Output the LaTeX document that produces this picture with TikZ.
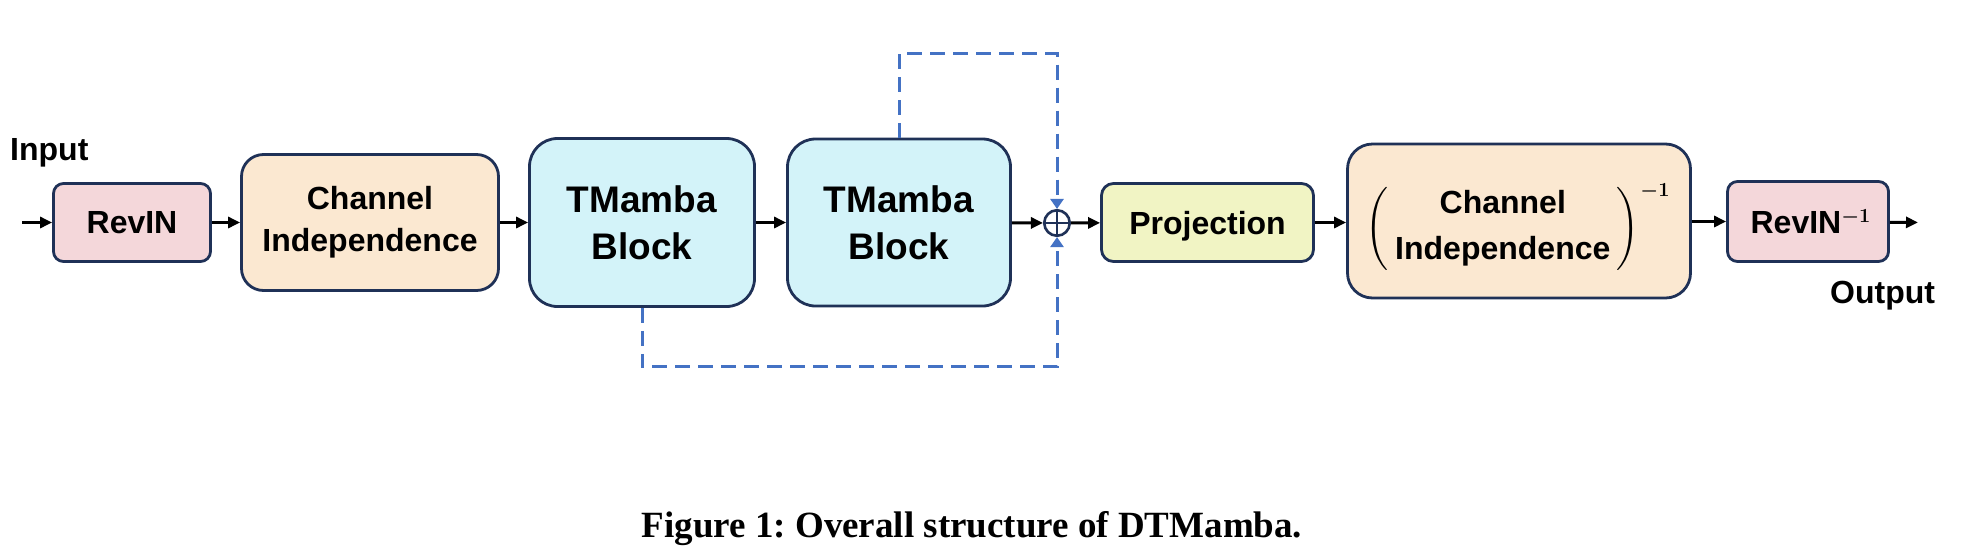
\RequirePackage{fix-cm}
\documentclass[tikz,border=0pt]{standalone}
\usepackage{fontspec}
\usetikzlibrary{arrows.meta}
\newfontfamily\lsans{Liberation Sans}
\newfontfamily\lserif{Liberation Serif}
\definecolor{edgec}{HTML}{1F3157}
\definecolor{revinc}{HTML}{F4D7DA}
\definecolor{chanc}{HTML}{FBE8D1}
\definecolor{tmc}{HTML}{D3F3F9}
\definecolor{projc}{HTML}{F1F4C4}
\definecolor{dashc}{HTML}{4472C4}
\newcommand{\bigparen}[1]{\makebox[16pt][c]{\scalebox{2.9}[2.77]{\fontsize{10}{12}\selectfont$#1$}}}
\newcommand{\supinv}{{\fontsize{20}{20}\selectfont\boldmath$-1$}}
\tikzset{
  box/.style={draw=edgec, line width=2.8pt, rounded corners=#1, align=center,
    inner sep=0pt, font=\lsans\bfseries\fontsize{32}{42}\selectfont},
  box/.default=10pt,
  arr/.style={line width=3pt, -{Triangle[length=12pt,width=11pt]}},
  skip/.style={draw=dashc, line width=3pt, dash pattern=on 15pt off 8pt,
    -{Triangle[length=10pt,width=13pt]}},
  lbl/.style={inner sep=0pt, font=\lsans\bfseries\fontsize{32}{38}\selectfont}
}
\begin{document}
\begin{tikzpicture}[x=1pt,y=-1pt]
\useasboundingbox (0,0) rectangle (1977,555);
\fill[white] (0,0) rectangle (1977,555);

\node[box=10pt, fill=revinc, minimum width=157pt, minimum height=78pt] (revin) at (132,222.5) {RevIN};
\node[box=22pt, fill=chanc, minimum width=257pt, minimum height=136pt] (ci) at (370,222.5) {Channel\\Independence};
\node[box=28pt, fill=tmc, minimum width=225pt, minimum height=168pt,
      font=\lsans\bfseries\fontsize{37}{47}\selectfont] (tm1) at (642,222.5) {TMamba\\Block};
\node[box=28pt, fill=tmc, minimum width=223pt, minimum height=167pt,
      font=\lsans\bfseries\fontsize{37}{47}\selectfont] (tm2) at (899,222.5) {TMamba\\Block};
\node[circle, draw=edgec, line width=2.6pt, minimum size=25.5pt, inner sep=0pt] (plus) at (1057,223) {};
\draw[edgec, line width=2.4pt] (plus.north) -- (plus.south) (plus.west) -- (plus.east);
\node[box=12pt, fill=projc, minimum width=212pt, minimum height=78pt,
      text height=23pt, text depth=0pt] (proj) at (1207.5,222.5) {Projection};
\node[box=25pt, fill=chanc, minimum width=343pt, minimum height=154pt] (ciinv) at (1519,221) {};
\node[anchor=base west, inner sep=0pt, font=\lsans\bfseries\fontsize{32}{46}\selectfont] (ciinvlbl) at (1369,235.5) {%
  \bigparen{\Bigg(}%
  \hspace{10pt}\begin{tabular}{@{}c@{}}Channel\\Independence\end{tabular}%
  \hspace{10pt}\bigparen{\Bigg)}%
  \hspace{4pt}\raisebox{39.5pt}{\supinv}};
\node[box=10pt, fill=revinc, minimum width=161pt, minimum height=80pt] (revininv) at (1808,221.5) {%
  \hspace*{5pt}RevIN\raisebox{11pt}{\supinv}};

\coordinate (in) at (22,222.5);
\coordinate (out) at (1918,222.5);
\node[lbl, anchor=base west] (inlbl) at (10,160) {Input};
\node[lbl, anchor=base west] (outlbl) at (1830,303) {Output};

\draw[arr] (in) -- (revin);
\draw[arr] (revin) -- (ci);
\draw[arr] (ci) -- (tm1);
\draw[arr] (tm1) -- (tm2);
\draw[arr] (tm2) -- (plus);
\draw[arr] (plus) -- (proj);
\draw[arr] (proj) -- (proj -| ciinv.west);
\draw[arr] (ciinv.east |- revininv) -- (revininv);
\draw[arr] (revininv) -- (out);

\draw[skip] (tm1.south) -- ++(0,59) -| (plus.south);
\draw[skip] (tm2.north) -- ++(0,-84) -| (plus.north);

\node[anchor=base, inner sep=0pt, font=\lserif\bfseries\fontsize{37}{44}\selectfont] (cap) at (972,537) {\frenchspacing Figure 1: Overall structure of DTMamba.};
\end{tikzpicture}
\end{document}
